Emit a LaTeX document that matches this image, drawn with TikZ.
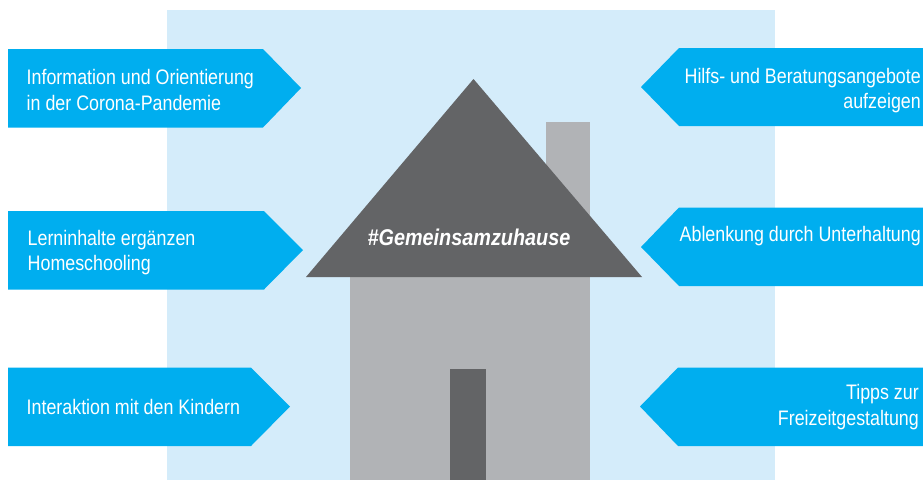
\documentclass[tikz,border=0pt]{standalone}
\usepackage{fontspec}
\setmainfont{Liberation Sans}
\newfontfamily\lblfont[FakeStretch=0.85]{Liberation Sans}
\newfontfamily\titlefont[FakeStretch=0.87,BoldFont={Liberation Sans Bold},ItalicFont={Liberation Sans Italic},BoldItalicFont={Liberation Sans Bold Italic}]{Liberation Sans}
\definecolor{bgblue}{HTML}{D4ECFA}
\definecolor{tagblue}{HTML}{00AEEF}
\definecolor{wallgrey}{HTML}{B1B3B6}
\definecolor{roofgrey}{HTML}{636466}
\tikzset{
  x=1pt,y=-1pt,
  tag/.style={fill=tagblue,draw=none},
  lbl/.style={text=white,inner sep=0pt,font=\lblfont\fontsize{21}{25.5}\selectfont},
  lblleft/.style={lbl,anchor=west,align=left},
  lblright/.style={lbl,anchor=east,align=right},
}
\begin{document}
\begin{tikzpicture}
\useasboundingbox (0,0) rectangle (923,480);
\fill[bgblue] (167,10) rectangle (775,480);
% house
\fill[wallgrey] (546,122) rectangle (590,280);
\fill[wallgrey] (350,277) rectangle (590,480);
\fill[roofgrey] (450,369) rectangle (486,480);
\fill[roofgrey] (473.5,79) -- (642,277) -- (306,277) -- cycle;
\node[inner sep=0pt,text=white,font=\titlefont\bfseries\itshape\fontsize{22.8}{24}\selectfont] (title) at (469,237) {\#Gemeinsamzuhause};
% left tags
\fill[tag] (8,49) -- (263,49) -- (301,88) -- (263,127.5) -- (8,127.5) -- cycle;
\fill[tag] (8,211) -- (264,211) -- (303,250) -- (264,289.5) -- (8,289.5) -- cycle;
\fill[tag] (8,367.5) -- (251,367.5) -- (290,406.5) -- (251,446) -- (8,446) -- cycle;
% right tags
\fill[tag] (923,48) -- (679,48) -- (641,87) -- (679,126) -- (923,126) -- cycle;
\fill[tag] (923,207.5) -- (679,207.5) -- (641,247) -- (679,286) -- (923,286) -- cycle;
\fill[tag] (923,367.5) -- (678,367.5) -- (640,406.5) -- (678,446) -- (923,446) -- cycle;
% labels
\node[lblleft] (l1) at (26.5,90) {Information und Orientierung\\in der Corona-Pandemie};
\node[lblleft] (l2) at (27.5,252.5) {Lerninhalte ergänzen\\Homeschooling};
\node[lblleft] (l3) at (26.5,407) {Interaktion mit den Kindern};
\node[lblright] (r1) at (921,90.5) {Hilfs- und Beratungsangebote\\aufzeigen};
\node[lblright] (r2) at (921,236.5) {Ablenkung durch Unterhaltung};
\node[lblright] (r3) at (919,407) {Tipps zur\\Freizeitgestaltung};
\end{tikzpicture}
\end{document}
